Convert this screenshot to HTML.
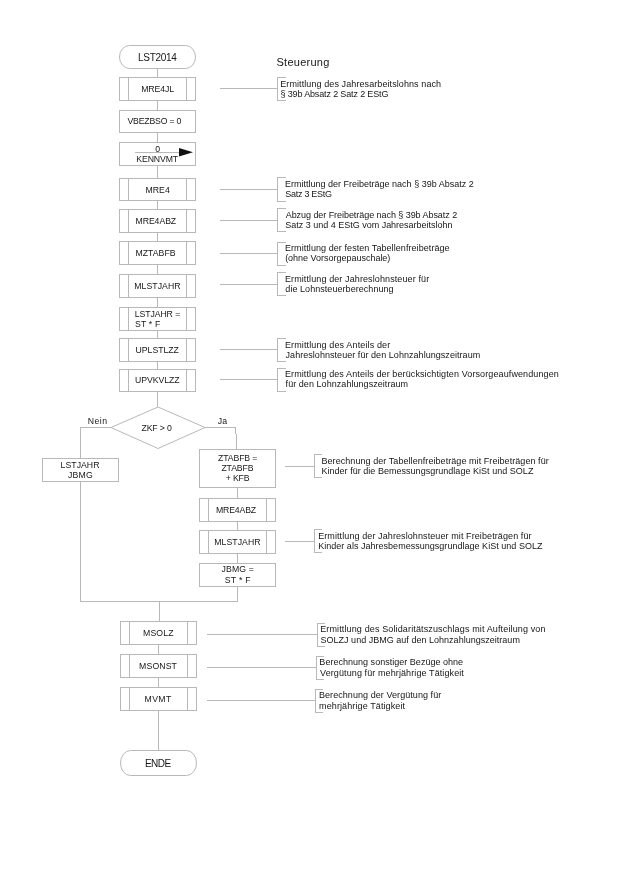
<!DOCTYPE html>
<html><head><meta charset="utf-8"><style>
html,body{margin:0;padding:0;background:#fff;}
svg{display:block;will-change:transform;}
text{font-family:"Liberation Sans",sans-serif;fill:#161616;}
</style></head><body>
<svg width="630" height="891" viewBox="0 0 630 891">
<rect width="630" height="891" fill="#fff"/>
<g stroke="#b8b8b8" stroke-width="1" fill="none" shape-rendering="crispEdges">
<rect x="119.5" y="45.5" width="76.0" height="23.0" rx="10" ry="11.5" fill="none" shape-rendering="geometricPrecision"/>
<rect x="119.5" y="77.5" width="76.0" height="23.0" fill="none"/>
<line x1="128.5" y1="77.5" x2="128.5" y2="100.5"/>
<line x1="186.5" y1="77.5" x2="186.5" y2="100.5"/>
<rect x="119.5" y="110.5" width="76.0" height="22.0" fill="none"/>
<rect x="119.5" y="142.5" width="76.0" height="23.0" fill="none"/>
<rect x="119.5" y="178.5" width="76.0" height="22.0" fill="none"/>
<line x1="128.5" y1="178.5" x2="128.5" y2="200.5"/>
<line x1="186.5" y1="178.5" x2="186.5" y2="200.5"/>
<rect x="119.5" y="209.5" width="76.0" height="23.0" fill="none"/>
<line x1="128.5" y1="209.5" x2="128.5" y2="232.5"/>
<line x1="186.5" y1="209.5" x2="186.5" y2="232.5"/>
<rect x="119.5" y="241.5" width="76.0" height="23.0" fill="none"/>
<line x1="128.5" y1="241.5" x2="128.5" y2="264.5"/>
<line x1="186.5" y1="241.5" x2="186.5" y2="264.5"/>
<rect x="119.5" y="274.5" width="76.0" height="23.0" fill="none"/>
<line x1="128.5" y1="274.5" x2="128.5" y2="297.5"/>
<line x1="186.5" y1="274.5" x2="186.5" y2="297.5"/>
<rect x="119.5" y="307.5" width="76.0" height="23.0" fill="none"/>
<line x1="128.5" y1="307.5" x2="128.5" y2="330.5"/>
<line x1="186.5" y1="307.5" x2="186.5" y2="330.5"/>
<rect x="119.5" y="338.5" width="76.0" height="23.0" fill="none"/>
<line x1="128.5" y1="338.5" x2="128.5" y2="361.5"/>
<line x1="186.5" y1="338.5" x2="186.5" y2="361.5"/>
<rect x="119.5" y="369.5" width="76.0" height="22.0" fill="none"/>
<line x1="128.5" y1="369.5" x2="128.5" y2="391.5"/>
<line x1="186.5" y1="369.5" x2="186.5" y2="391.5"/>
<line x1="157.5" y1="68.5" x2="157.5" y2="77.5"/>
<line x1="157.5" y1="100.5" x2="157.5" y2="110.5"/>
<line x1="157.5" y1="132.5" x2="157.5" y2="142.5"/>
<line x1="157.5" y1="165.5" x2="157.5" y2="178.5"/>
<line x1="157.5" y1="200.5" x2="157.5" y2="209.5"/>
<line x1="157.5" y1="232.5" x2="157.5" y2="241.5"/>
<line x1="157.5" y1="264.5" x2="157.5" y2="274.5"/>
<line x1="157.5" y1="297.5" x2="157.5" y2="307.5"/>
<line x1="157.5" y1="330.5" x2="157.5" y2="338.5"/>
<line x1="157.5" y1="361.5" x2="157.5" y2="369.5"/>
<line x1="157.5" y1="391.5" x2="157.5" y2="407"/>
<polygon points="158,407 205,427.5 158,448.5 111,427.5" fill="none" shape-rendering="geometricPrecision"/>
<polyline points="111,427.5 80.5,427.5 80.5,458.5" fill="none"/>
<rect x="42.5" y="458.5" width="76.0" height="23.0" fill="none"/>
<line x1="80.5" y1="481.5" x2="80.5" y2="601.5"/>
<line x1="80.5" y1="601.5" x2="237.5" y2="601.5"/>
<polyline points="205,427.5 235.5,427.5 235.5,434" fill="none"/>
<line x1="236.5" y1="434" x2="236.5" y2="449.5"/>
<rect x="199.5" y="449.5" width="76.0" height="38.0" fill="none"/>
<line x1="237.5" y1="487.5" x2="237.5" y2="498.5"/>
<rect x="199.5" y="498.5" width="76.0" height="23.0" fill="none"/>
<line x1="208.5" y1="498.5" x2="208.5" y2="521.5"/>
<line x1="266.5" y1="498.5" x2="266.5" y2="521.5"/>
<line x1="237.5" y1="521.5" x2="237.5" y2="530.5"/>
<rect x="199.5" y="530.5" width="76.0" height="23.0" fill="none"/>
<line x1="208.5" y1="530.5" x2="208.5" y2="553.5"/>
<line x1="266.5" y1="530.5" x2="266.5" y2="553.5"/>
<line x1="237.5" y1="553.5" x2="237.5" y2="563.5"/>
<rect x="199.5" y="563.5" width="76.0" height="23.0" fill="none"/>
<line x1="237.5" y1="586.5" x2="237.5" y2="601.5"/>
<line x1="159.5" y1="601.5" x2="159.5" y2="621.5"/>
<rect x="120.5" y="621.5" width="76.0" height="23.0" fill="none"/>
<line x1="129.5" y1="621.5" x2="129.5" y2="644.5"/>
<line x1="187.5" y1="621.5" x2="187.5" y2="644.5"/>
<line x1="158.5" y1="644.5" x2="158.5" y2="654.5"/>
<rect x="120.5" y="654.5" width="76.0" height="23.0" fill="none"/>
<line x1="129.5" y1="654.5" x2="129.5" y2="677.5"/>
<line x1="187.5" y1="654.5" x2="187.5" y2="677.5"/>
<line x1="158.5" y1="677.5" x2="158.5" y2="687.5"/>
<rect x="120.5" y="687.5" width="76.0" height="23.0" fill="none"/>
<line x1="129.5" y1="687.5" x2="129.5" y2="710.5"/>
<line x1="187.5" y1="687.5" x2="187.5" y2="710.5"/>
<line x1="158.5" y1="710.5" x2="158.5" y2="750.5"/>
<rect x="120.5" y="750.5" width="76.0" height="25.0" rx="10" ry="12.5" fill="none" shape-rendering="geometricPrecision"/>
<line x1="135" y1="152.5" x2="180" y2="152.5"/>
<polygon points="179,148 193,152.3 179,156.6" fill="#111" stroke="none" shape-rendering="geometricPrecision"/>
<polyline points="285.5,77.5 277.5,77.5 277.5,100.5 285.5,100.5" fill="none"/>
<line x1="220" y1="88.5" x2="277.5" y2="88.5"/>
<polyline points="285.5,177.5 277.5,177.5 277.5,201.5 285.5,201.5" fill="none"/>
<line x1="220" y1="189.5" x2="277.5" y2="189.5"/>
<polyline points="285.5,208.5 277.5,208.5 277.5,231.5 285.5,231.5" fill="none"/>
<line x1="220" y1="220.5" x2="277.5" y2="220.5"/>
<polyline points="285.5,242.5 277.5,242.5 277.5,265.5 285.5,265.5" fill="none"/>
<line x1="220" y1="253.5" x2="277.5" y2="253.5"/>
<polyline points="285.5,272.5 277.5,272.5 277.5,295.5 285.5,295.5" fill="none"/>
<line x1="220" y1="284.5" x2="277.5" y2="284.5"/>
<polyline points="285.5,338.5 277.5,338.5 277.5,361.5 285.5,361.5" fill="none"/>
<line x1="220" y1="349.5" x2="277.5" y2="349.5"/>
<polyline points="285.5,368.5 277.5,368.5 277.5,391.5 285.5,391.5" fill="none"/>
<line x1="220" y1="379.5" x2="277.5" y2="379.5"/>
<polyline points="321.5,454.5 314.5,454.5 314.5,477.5 321.5,477.5" fill="none"/>
<line x1="284.5" y1="466.5" x2="314.5" y2="466.5"/>
<polyline points="321.5,529.5 314.5,529.5 314.5,552.5 321.5,552.5" fill="none"/>
<line x1="284.5" y1="541.5" x2="314.5" y2="541.5"/>
<polyline points="325,623.5 317.5,623.5 317.5,646.5 325,646.5" fill="none"/>
<line x1="207" y1="634.5" x2="317.5" y2="634.5"/>
<polyline points="324,656.5 316.5,656.5 316.5,679.5 324,679.5" fill="none"/>
<line x1="207" y1="667.5" x2="316.5" y2="667.5"/>
<polyline points="323,689.5 315.5,689.5 315.5,712.5 323,712.5" fill="none"/>
<line x1="207" y1="700.5" x2="315.5" y2="700.5"/>
</g>
<g>
<text x="137.98" y="61" font-size="10" textLength="38.91" lengthAdjust="spacing">LST2014</text>
<text x="141.19" y="91.7" font-size="8.7" textLength="33.00" lengthAdjust="spacing">MRE4JL</text>
<text x="127.46" y="124.4" font-size="8.7" textLength="53.98" lengthAdjust="spacing">VBEZBSO = 0</text>
<text x="155.36" y="151.6" font-size="8.7" textLength="4.78" lengthAdjust="spacing">0</text>
<text x="136.29" y="161.6" font-size="8.7" textLength="41.81" lengthAdjust="spacing">KENNVMT</text>
<text x="145.49" y="192.6" font-size="8.7" textLength="24.27" lengthAdjust="spacing">MRE4</text>
<text x="135.49" y="224.1" font-size="8.7" textLength="40.69" lengthAdjust="spacing">MRE4ABZ</text>
<text x="135.49" y="256.3" font-size="8.7" textLength="40.07" lengthAdjust="spacing">MZTABFB</text>
<text x="134.19" y="289.1" font-size="8.7" textLength="46.42" lengthAdjust="spacing">MLSTJAHR</text>
<text x="134.69" y="316.6" font-size="8.7" textLength="45.54" lengthAdjust="spacing">LSTJAHR =</text>
<text x="135.00" y="326.6" font-size="8.7" textLength="25.24" lengthAdjust="spacing">ST * F</text>
<text x="135.53" y="353.0" font-size="8.7" textLength="43.34" lengthAdjust="spacing">UPLSTLZZ</text>
<text x="135.03" y="383.2" font-size="8.7" textLength="44.64" lengthAdjust="spacing">UPVKVLZZ</text>
<text x="141.62" y="430.7" font-size="8.7" textLength="30.12" lengthAdjust="spacing">ZKF > 0</text>
<text x="87.69" y="423.7" font-size="8.7" textLength="19.38" lengthAdjust="spacing">Nein</text>
<text x="217.86" y="424" font-size="8.7" textLength="9.14" lengthAdjust="spacing">Ja</text>
<text x="60.59" y="467.7" font-size="8.7" textLength="38.82" lengthAdjust="spacing">LSTJAHR</text>
<text x="67.96" y="477.7" font-size="8.7" textLength="24.89" lengthAdjust="spacing">JBMG</text>
<text x="218.02" y="461" font-size="8.7" textLength="39.41" lengthAdjust="spacing">ZTABFB =</text>
<text x="221.42" y="471" font-size="8.7" textLength="32.03" lengthAdjust="spacing">ZTABFB</text>
<text x="225.78" y="481.3" font-size="8.7" textLength="23.68" lengthAdjust="spacing">+ KFB</text>
<text x="215.99" y="512.7" font-size="8.7" textLength="40.19" lengthAdjust="spacing">MRE4ABZ</text>
<text x="214.19" y="545.1" font-size="8.7" textLength="46.42" lengthAdjust="spacing">MLSTJAHR</text>
<text x="221.56" y="572.4" font-size="8.7" textLength="32.36" lengthAdjust="spacing">JBMG =</text>
<text x="224.80" y="582.7" font-size="8.7" textLength="25.84" lengthAdjust="spacing">ST * F</text>
<text x="143.09" y="636" font-size="8.7" textLength="30.39" lengthAdjust="spacing">MSOLZ</text>
<text x="139.09" y="669" font-size="8.7" textLength="37.81" lengthAdjust="spacing">MSONST</text>
<text x="144.49" y="702.2" font-size="8.7" textLength="26.81" lengthAdjust="spacing">MVMT</text>
<text x="144.88" y="766.6" font-size="10" textLength="26.35" lengthAdjust="spacing">ENDE</text>
<text x="276.50" y="66.3" font-size="11" textLength="52.81" lengthAdjust="spacing">Steuerung</text>
<text x="280.26" y="86.7" font-size="9.0" textLength="160.82" lengthAdjust="spacing">Ermittlung des Jahresarbeitslohns nach</text>
<text x="280.49" y="96.9" font-size="9.0" textLength="107.98" lengthAdjust="spacing">§ 39b Absatz 2 Satz 2 EStG</text>
<text x="284.96" y="187.0" font-size="9.0" textLength="188.79" lengthAdjust="spacing">Ermittlung der Freibeträge nach § 39b Absatz 2</text>
<text x="285.29" y="197.1" font-size="9.0" textLength="46.78" lengthAdjust="spacing">Satz 3 EStG</text>
<text x="285.68" y="217.7" font-size="9.0" textLength="171.47" lengthAdjust="spacing">Abzug der Freibeträge nach § 39b Absatz 2</text>
<text x="285.29" y="227.8" font-size="9.0" textLength="167.19" lengthAdjust="spacing">Satz 3 und 4 EStG vom Jahresarbeitslohn</text>
<text x="284.96" y="251.4" font-size="9.0" textLength="164.64" lengthAdjust="spacing">Ermittlung der festen Tabellenfreibeträge</text>
<text x="285.14" y="261.4" font-size="9.0" textLength="105.22" lengthAdjust="spacing">(ohne Vorsorgepauschale)</text>
<text x="284.96" y="281.9" font-size="9.0" textLength="144.19" lengthAdjust="spacing">Ermittlung der Jahreslohnsteuer für</text>
<text x="285.32" y="291.9" font-size="9.0" textLength="108.26" lengthAdjust="spacing">die Lohnsteuerberechnung</text>
<text x="284.96" y="347.6" font-size="9.0" textLength="105.19" lengthAdjust="spacing">Ermittlung des Anteils der</text>
<text x="285.56" y="357.9" font-size="9.0" textLength="194.63" lengthAdjust="spacing">Jahreslohnsteuer für den Lohnzahlungszeitraum</text>
<text x="284.96" y="377.4" font-size="9.0" textLength="273.82" lengthAdjust="spacing">Ermittlung des Anteils der berücksichtigten Vorsorgeaufwendungen</text>
<text x="285.57" y="387.4" font-size="9.0" textLength="122.52" lengthAdjust="spacing">für den Lohnzahlungszeitraum</text>
<text x="321.46" y="463.6" font-size="9.0" textLength="227.29" lengthAdjust="spacing">Berechnung der Tabellenfreibeträge mit Freibeträgen für</text>
<text x="321.46" y="473.6" font-size="9.0" textLength="211.92" lengthAdjust="spacing">Kinder für die Bemessungsgrundlage KiSt und SOLZ</text>
<text x="318.16" y="538.8" font-size="9.0" textLength="213.39" lengthAdjust="spacing">Ermittlung der Jahreslohnsteuer mit Freibeträgen für</text>
<text x="318.16" y="548.7" font-size="9.0" textLength="224.32" lengthAdjust="spacing">Kinder als Jahresbemessungsgrundlage KiSt und SOLZ</text>
<text x="320.16" y="632.4" font-size="9.0" textLength="225.32" lengthAdjust="spacing">Ermittlung des Solidaritätszuschlags mit Aufteilung von</text>
<text x="320.49" y="642.7" font-size="9.0" textLength="199.40" lengthAdjust="spacing">SOLZJ und JBMG auf den Lohnzahlungszeitraum</text>
<text x="319.36" y="665.1" font-size="9.0" textLength="143.74" lengthAdjust="spacing">Berechnung sonstiger Bezüge ohne</text>
<text x="320.06" y="675.7" font-size="9.0" textLength="143.81" lengthAdjust="spacing">Vergütung für mehrjährige Tätigkeit</text>
<text x="318.96" y="698.1" font-size="9.0" textLength="122.29" lengthAdjust="spacing">Berechnung der Vergütung für</text>
<text x="319.10" y="708.7" font-size="9.0" textLength="85.96" lengthAdjust="spacing">mehrjährige Tätigkeit</text>
</g>
</svg>
</body></html>
